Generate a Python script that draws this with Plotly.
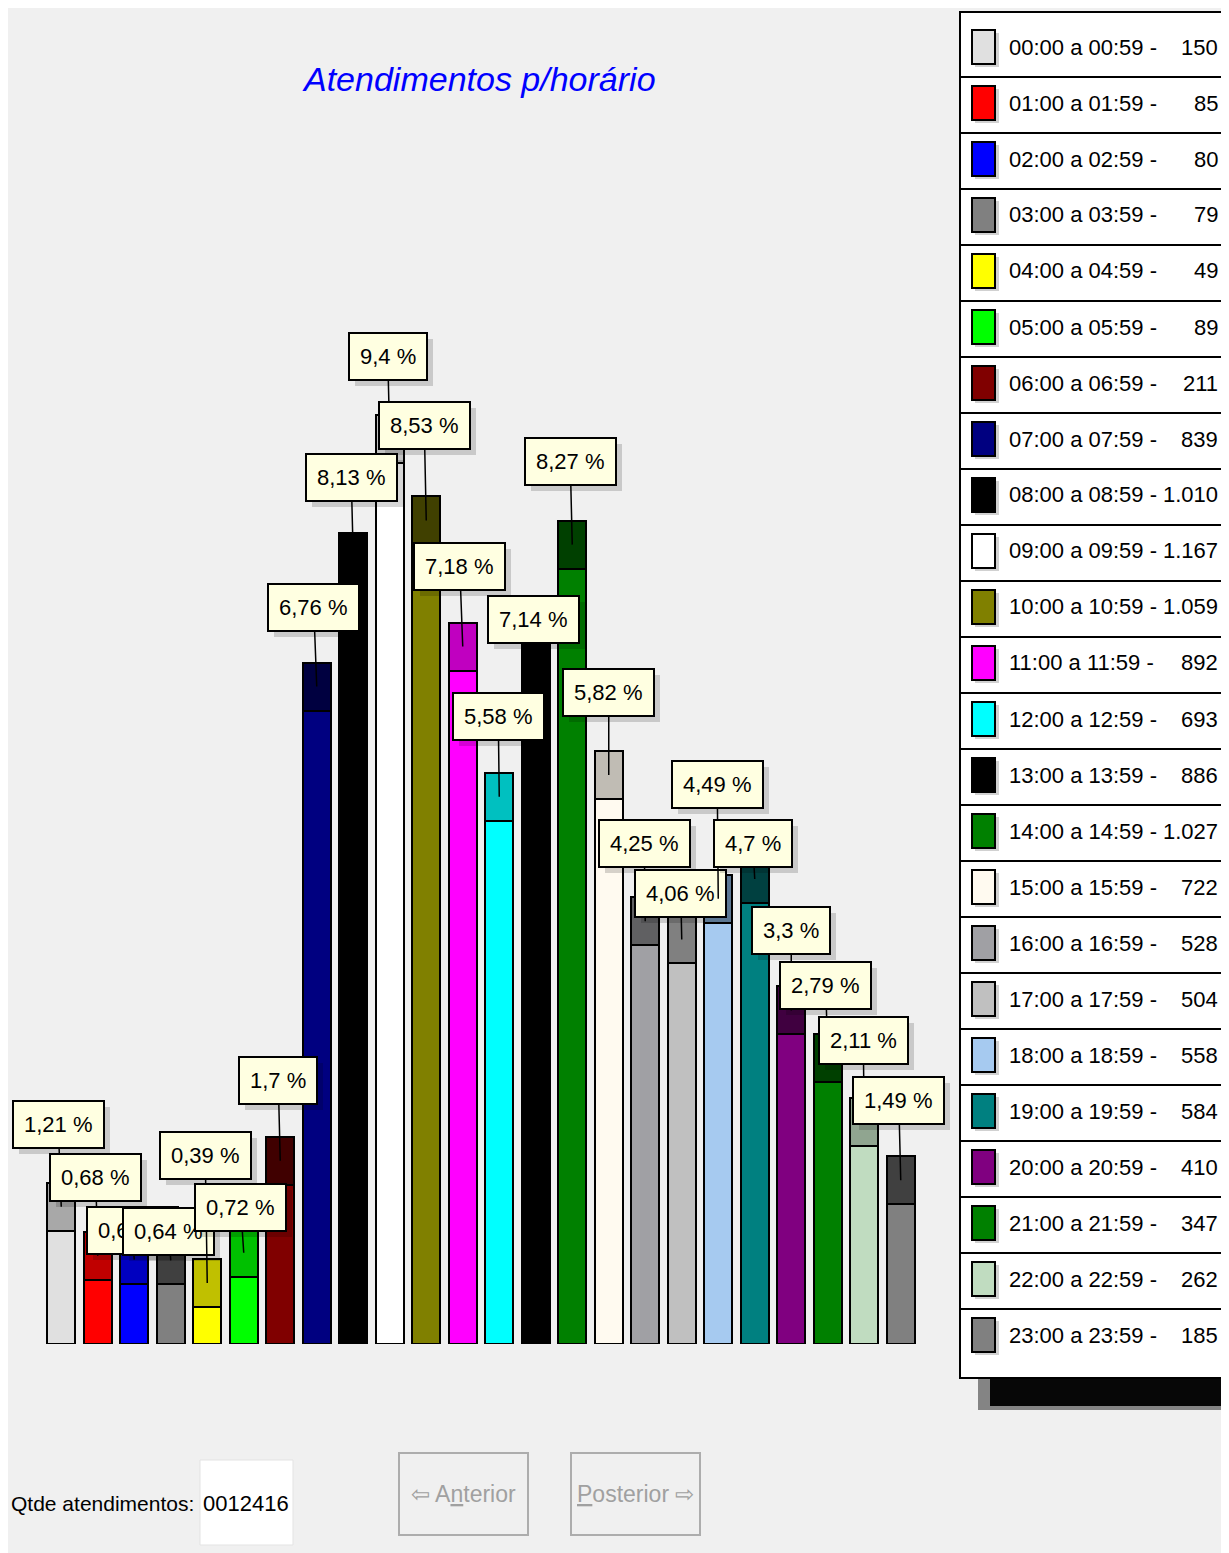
import plotly.graph_objects as go

hours = [f"{h:02d}:00 a {h:02d}:59" for h in range(24)]
atendimentos = [150, 85, 80, 79, 49, 89, 211, 839, 1010, 1167, 1059, 892,
                693, 886, 1027, 722, 528, 504, 558, 584, 410, 347, 262, 185]
total = 12416

bar_colors = ["#E0E0E0", "#FF0000", "#0000FF", "#808080", "#FFFF00", "#00FF00",
              "#800000", "#000080", "#000000", "#FFFFFF", "#808000", "#FF00FF",
              "#00FFFF", "#000000", "#008000", "#FFFAF0", "#A0A0A4", "#C0C0C0",
              "#A6CAF0", "#008080", "#800080", "#008000", "#C0DCC0", "#808080"]
top_colors = ["#A8A8A8", "#C00000", "#0000C0", "#404040", "#C0C000", "#00C000",
              "#400000", "#000040", "#000000", "#C0C0C0", "#404000", "#C000C0",
              "#00C0C0", "#000000", "#004000", "#C0BCB4", "#606062", "#808080",
              "#6F8FB0", "#004040", "#400040", "#004000", "#90A590", "#404040"]

# label box offsets (pixels) relative to the top of each bar
label_dx = [-3, -2, -2, -2, -2, -3, -2, -3, -2, -2, -2, -3,
            -1, -2, -2, 0, -1, -1, -1, -2, 0, -2, -1, -2]
label_dy = [-82, -78, -29, -29, -128, -45, -80, -79, -80, -82, -95, -80,
            -80, -32, -83, -82, -78, -46, -114, -36, -80, -73, -82, -80]

FONT = "Liberation Sans, Arial, sans-serif"
FS = 22
PX_PER_UNIT = 0.755
DEPTH = 48 / PX_PER_UNIT  # darker 3D top of each bar
BASE_PX = 1344

# the page body adds an 8px margin, so the figure is laid out in page pixels
OFF = 8
W, H = 1229 - OFF, 1553 - OFF


def px(x):
    return (x - OFF) / W


def py(y):
    return 1 - (y - OFF) / H


def pct_label(v):
    s = f"{round(v / total * 100, 2):.2f}".rstrip("0").rstrip(".")
    return s.replace(".", ",") + " %"


x_idx = list(range(len(atendimentos)))

fig = go.Figure()
fig.add_trace(go.Bar(
    x=x_idx, y=atendimentos,
    marker=dict(color=bar_colors, line=dict(color="black", width=2)),
    hoverinfo="skip", showlegend=False,
))
fig.add_trace(go.Bar(
    x=x_idx, y=[DEPTH] * len(atendimentos),
    marker=dict(color=top_colors, line=dict(color="black", width=2)),
    hoverinfo="skip", showlegend=False,
))

annotations = []
for i, v in enumerate(atendimentos):
    tip_y = v + DEPTH / 2
    # soft shadow
    annotations.append(dict(
        x=i, y=tip_y, xref="x", yref="y", text=pct_label(v),
        showarrow=True, arrowcolor="rgba(0,0,0,0)", arrowwidth=0.1,
        ax=label_dx[i] + 6, ay=label_dy[i] + 6,
        bgcolor="rgba(0,0,0,0.16)", borderwidth=2, bordercolor="rgba(0,0,0,0)",
        borderpad=10, font=dict(family=FONT, size=FS, color="rgba(0,0,0,0)"),
    ))
    annotations.append(dict(
        x=i, y=tip_y, xref="x", yref="y", text=pct_label(v),
        showarrow=True, arrowhead=0, arrowwidth=1.5, arrowcolor="black",
        ax=label_dx[i], ay=label_dy[i],
        bgcolor="#FFFFE1", bordercolor="black", borderwidth=2, borderpad=10,
        font=dict(family=FONT, size=FS, color="black"),
    ))

# title
annotations.append(dict(
    x=px(479), y=py(79), xref="paper", yref="paper", showarrow=False,
    xanchor="center", yanchor="middle",
    text="<i>Atendimentos p/horário</i>",
    font=dict(family=FONT, size=34, color="#0000FF"),
))

shapes = []

# legend panel
shapes.append(dict(type="rect", xref="paper", yref="paper",
                   x0=px(990), x1=px(1240), y0=py(1378), y1=py(1406),
                   fillcolor="rgba(0,0,0,0.95)", line=dict(width=0), layer="below"))
shapes.append(dict(type="rect", xref="paper", yref="paper",
                   x0=px(978), x1=px(1240), y0=py(1378), y1=py(1410),
                   fillcolor="rgba(0,0,0,0.45)", line=dict(width=0), layer="below"))
shapes.append(dict(type="rect", xref="paper", yref="paper",
                   x0=px(960), x1=px(1240), y0=py(1378), y1=py(12),
                   fillcolor="white", line=dict(color="black", width=2), layer="below"))
ROW0, ROW_H = 47, 56
for i in range(1, 24):
    yl = ROW0 + ROW_H * i - 26
    shapes.append(dict(type="line", xref="paper", yref="paper",
                       x0=px(961), x1=px(1232), y0=py(yl), y1=py(yl),
                       line=dict(color="black", width=2)))
for i, (lab, v) in enumerate(zip(hours, atendimentos)):
    yc = ROW0 + ROW_H * i
    shapes.append(dict(type="rect", xref="paper", yref="paper",
                       x0=px(975), x1=px(999), y0=py(yc + 20), y1=py(yc - 14),
                       fillcolor="rgba(0,0,0,0.18)", line=dict(width=0)))
    shapes.append(dict(type="rect", xref="paper", yref="paper",
                       x0=px(972), x1=px(995), y0=py(yc + 17), y1=py(yc - 17),
                       fillcolor=bar_colors[i], line=dict(color="black", width=2)))
    annotations.append(dict(
        x=px(1007), y=py(yc), xref="paper", yref="paper", showarrow=False,
        xanchor="left", yanchor="middle", text=f"{lab} -",
        font=dict(family=FONT, size=FS, color="black"),
    ))
    annotations.append(dict(
        x=px(1220), y=py(yc), xref="paper", yref="paper", showarrow=False,
        xanchor="right", yanchor="middle", text=f"{v:,}".replace(",", "."),
        font=dict(family=FONT, size=FS, color="black"),
    ))

# bottom controls
annotations.append(dict(
    x=px(9), y=py(1503), xref="paper", yref="paper", showarrow=False,
    xanchor="left", yanchor="middle", text="Qtde atendimentos:",
    font=dict(family=FONT, size=21, color="black"),
))
shapes.append(dict(type="rect", xref="paper", yref="paper",
                   x0=px(200), x1=px(293), y0=py(1545), y1=py(1460),
                   fillcolor="white", line=dict(color="#E3E3E3", width=1)))
annotations.append(dict(
    x=px(246), y=py(1503), xref="paper", yref="paper", showarrow=False,
    xanchor="center", yanchor="middle",
    text=f"{total:07d}", font=dict(family=FONT, size=FS, color="black"),
))
for x0, x1, txt in [(399, 528, "⇦ A<u>n</u>terior"), (571, 700, "<u>P</u>osterior ⇨")]:
    shapes.append(dict(type="rect", xref="paper", yref="paper",
                       x0=px(x0), x1=px(x1), y0=py(1535), y1=py(1453),
                       fillcolor="#F0F0F0", line=dict(color="#ADADAD", width=2)))
    annotations.append(dict(
        x=px((x0 + x1) / 2), y=py(1494), xref="paper", yref="paper", showarrow=False,
        xanchor="center", yanchor="middle",
        text=txt, font=dict(family=FONT, size=23, color="#A0A0A0"),
    ))

n = len(atendimentos)
fig.update_layout(
    width=W, height=H,
    margin=dict(l=0, r=0, t=0, b=0),
    paper_bgcolor="#F0F0F0", plot_bgcolor="#F0F0F0",
    barmode="stack", bargap=0.233,
    xaxis=dict(domain=[px(43), px(919)], range=[-0.5, n - 0.5], visible=False),
    yaxis=dict(domain=[py(BASE_PX), 1], range=[0, (BASE_PX - OFF) / PX_PER_UNIT],
               visible=False),
    annotations=annotations, shapes=shapes,
    showlegend=False,
)

fig.write_html("out.html")
